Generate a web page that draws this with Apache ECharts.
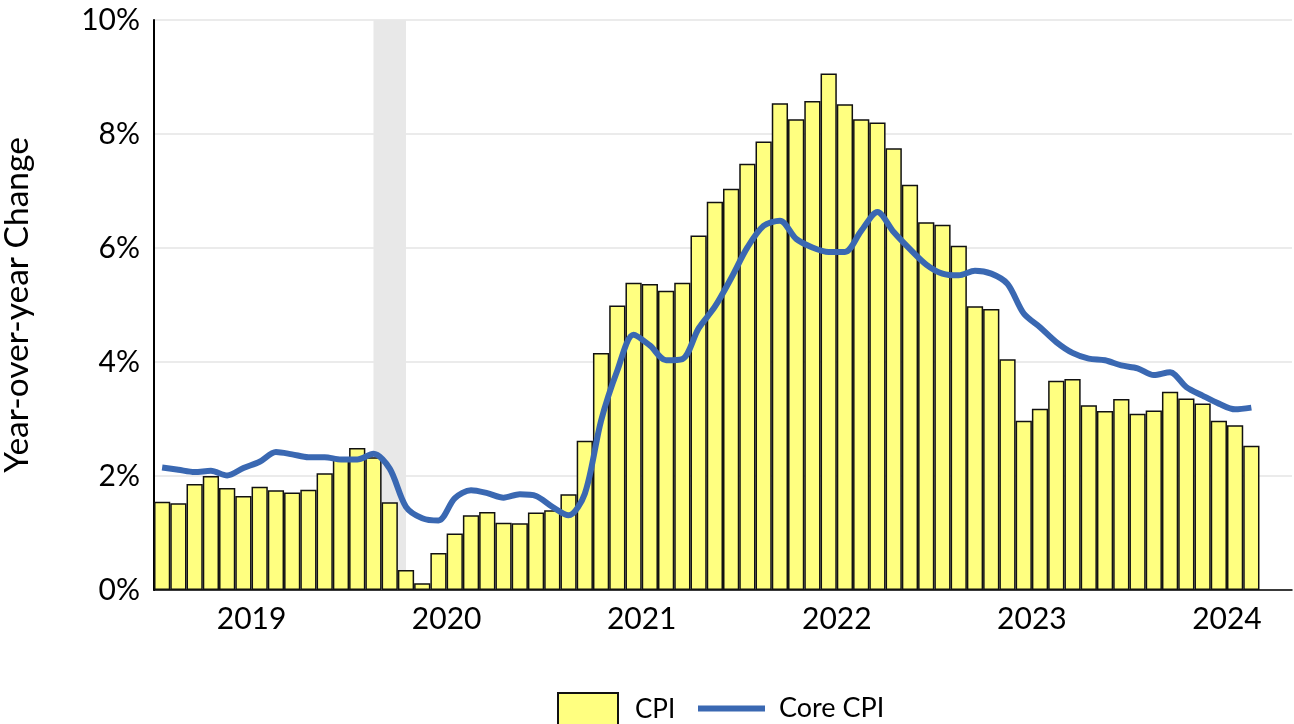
<!DOCTYPE html>
<html>
<head>
<meta charset="utf-8">
<script src="https://cdn.jsdelivr.net/npm/echarts@6/dist/echarts.min.js"></script>
<style>
html,body{margin:0;padding:0;background:#fff;}
#chart{width:1294px;height:724px;}
</style>
</head>
<body>
<div id="chart"></div>
<script>
// Monthly categories Jan 2019 .. Oct 2024
const monthNames = ['Jan','Feb','Mar','Apr','May','Jun','Jul','Aug','Sep','Oct','Nov','Dec'];
const years = [2019, 2020, 2021, 2022, 2023, 2024];
const months = [];
years.forEach(y => monthNames.forEach((m, i) => { if (y < 2024 || i < 10) months.push(m + ' ' + y); }));

const yearLabels = ['2019', '2020', '2021', '2022', '2023', '2024'];
const yTicks = ['0%', '2%', '4%', '6%', '8%', '10%'];

// CPI, year-over-year % change (Jan 2019 .. Aug 2024)
const cpi = [
  1.55, 1.52, 1.86, 2.00, 1.79, 1.65, 1.81, 1.75, 1.71, 1.76, 2.05, 2.29,
  2.49, 2.33, 1.54, 0.35, 0.12, 0.65, 0.99, 1.31, 1.37, 1.18, 1.17, 1.36,
  1.40, 1.68, 2.62, 4.16, 4.99, 5.39, 5.37, 5.25, 5.39, 6.22, 6.81, 7.04,
  7.48, 7.87, 8.54, 8.26, 8.58, 9.06, 8.52, 8.26, 8.20, 7.75, 7.11, 6.45,
  6.41, 6.04, 4.98, 4.93, 4.05, 2.97, 3.18, 3.67, 3.70, 3.24, 3.14, 3.35,
  3.09, 3.15, 3.48, 3.36, 3.27, 2.97, 2.89, 2.53
];

// Core CPI, year-over-year % change (Jan 2019 .. Aug 2024)
const coreCpi = [
  2.15, 2.11, 2.07, 2.09, 2.01, 2.14, 2.25, 2.42, 2.38, 2.33, 2.33, 2.29,
  2.29, 2.39, 2.13, 1.46, 1.26, 1.22, 1.61, 1.75, 1.70, 1.62, 1.68, 1.65,
  1.46, 1.31, 1.69, 2.97, 3.85, 4.48, 4.29, 4.03, 4.05, 4.59, 4.97, 5.47,
  6.01, 6.39, 6.48, 6.16, 6.01, 5.93, 5.93, 6.30, 6.63, 6.28, 5.98, 5.71,
  5.55, 5.52, 5.60, 5.55, 5.37, 4.85, 4.61, 4.35, 4.16, 4.06, 4.03, 3.94,
  3.89, 3.77, 3.82, 3.56, 3.41, 3.27, 3.17, 3.20
];

// Recession shading (COVID-19)
const recession = ['Feb 2020', 'Apr 2020'];

const FONT = 'Lato';
const LINE_COLOR = '#3A68B2';
const chart = echarts.init(document.getElementById('chart'), null, {renderer: 'canvas'});

chart.setOption({
  animation: false,
  backgroundColor: '#ffffff',
  grid: {left: 154, right: 2, top: 20, bottom: 134, containLabel: false, outerBoundsMode: 'none'},
  legend: [
    {
      data: ['CPI'], left: 557, top: 692, padding: 0, itemWidth: 60, itemHeight: 34,
      icon: 'rect',
      textStyle: {fontFamily: FONT, fontSize: 26, color: '#000', padding: [0, 0, 0, 12]}
    },
    {
      data: ['Core CPI'], left: 698, top: 695, padding: 0, itemWidth: 67, itemHeight: 6,
      icon: 'rect',
      itemStyle: {color: LINE_COLOR, borderWidth: 0},
      textStyle: {fontFamily: FONT, fontSize: 27, color: '#000', padding: [0, 0, 0, 9]}
    }
  ],
  xAxis: [
    {
      type: 'category', data: months, boundaryGap: true,
      axisLine: {show: true, lineStyle: {color: '#000', width: 1.5}},
      axisTick: {show: false}, axisLabel: {show: false}, splitLine: {show: false}
    },
    {
      type: 'value', min: 0, max: months.length, interval: 6, position: 'bottom',
      axisLine: {show: false}, axisTick: {show: false}, splitLine: {show: false},
      axisLabel: {
        fontFamily: FONT, fontSize: 30, color: '#000', margin: 14,
        showMinLabel: true, showMaxLabel: true,
        formatter: v => (v % 12 === 6 ? (yearLabels[(v - 6) / 12] || '') : '')
      }
    }
  ],
  yAxis: {
    type: 'value', min: 0, max: 10, interval: 2,
    name: 'Year-over-year Change', nameLocation: 'middle', nameGap: 120,
    nameTextStyle: {fontFamily: FONT, fontSize: 33.5, color: '#000'},
    axisLine: {show: true, lineStyle: {color: '#000', width: 2}},
    axisTick: {show: false},
    axisLabel: {fontFamily: FONT, fontSize: 30, color: '#000', margin: 14,
      formatter: v => yTicks[v / 2]},
    splitLine: {show: true, lineStyle: {color: '#E4E4E4', width: 1.5}}
  },
  series: [
    {
      name: 'Recession', type: 'line', data: [], z: 1, silent: true,
      markArea: {
        silent: true,
        itemStyle: {color: '#E8E8E8'},
        data: [[{xAxis: recession[0]}, {xAxis: recession[1]}]]
      }
    },
    {
      name: 'CPI', type: 'bar', data: cpi, z: 2, barCategoryGap: '0%',
      itemStyle: {color: '#FFFF80', borderColor: '#111', borderWidth: 1.5}
    },
    {
      name: 'Core CPI', type: 'line', data: coreCpi, z: 3, smooth: 0.3,
      symbol: 'none', showSymbol: false,
      lineStyle: {color: LINE_COLOR, width: 6},
      itemStyle: {color: LINE_COLOR}
    }
  ]
});
</script>
</body>
</html>
